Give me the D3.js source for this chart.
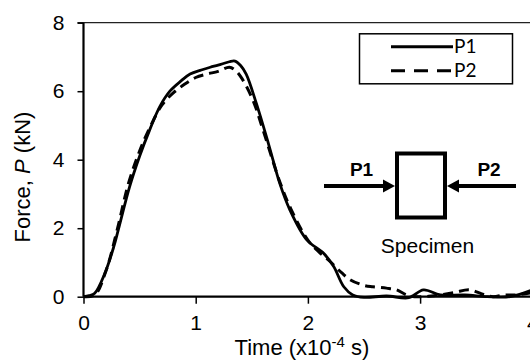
<!DOCTYPE html>
<html>
<head>
<meta charset="utf-8">
<script src="https://cdn.jsdelivr.net/npm/d3@7"></script>
<style>
  body { margin: 0; background: #fff; }
  text { font-family: "Liberation Sans", Arial, sans-serif; }
</style>
</head>
<body>
<div id="chart"></div>
<script>
// time in x10^-4 s, force in kN
var timeP1  = [0, 0.05, 0.1, 0.19, 0.27, 0.31, 0.41, 0.5, 0.59, 0.68, 0.77, 0.87, 0.95, 1.05, 1.13, 1.2, 1.3, 1.35, 1.4, 1.45, 1.54, 1.65, 1.75, 1.84, 1.99, 2.14, 2.23, 2.32, 2.4, 2.5, 2.7, 2.9, 3.03, 3.18, 3.4, 3.6, 3.8, 4.0];
var forceP1 = [0, 0.03, 0.1, 0.68, 1.46, 1.95, 3.2, 4.1, 4.87, 5.55, 6.0, 6.3, 6.5, 6.62, 6.7, 6.76, 6.86, 6.88, 6.75, 6.5, 5.65, 4.45, 3.3, 2.53, 1.66, 1.27, 0.88, 0.29, 0.05, -0.02, 0.02, -0.03, 0.2, 0.05, 0.05, 0.0, 0.0, 0.2];

var timeP2  = [0, 0.1, 0.2, 0.3, 0.4, 0.5, 0.6, 0.7, 0.8, 0.9, 1.0, 1.1, 1.2, 1.3, 1.35, 1.41, 1.51, 1.6, 1.75, 1.85, 2.0, 2.1, 2.2, 2.3, 2.38, 2.5, 2.58, 2.7, 2.79, 2.88, 2.95, 3.1, 3.3, 3.44, 3.55, 3.65, 3.75, 3.85, 4.0];
var forceP2 = [0, 0.05, 0.75, 1.95, 3.3, 4.25, 5.0, 5.6, 5.95, 6.2, 6.4, 6.5, 6.58, 6.7, 6.62, 6.38, 5.74, 4.87, 3.35, 2.55, 1.65, 1.3, 1.02, 0.7, 0.49, 0.33, 0.29, 0.25, 0.2, 0.05, 0.0, 0.02, 0.12, 0.2, 0.08, 0.0, 0.05, 0.05, 0.12];

var xTicks = [0, 1, 2, 3, 4];
var yTicks = [0, 2, 4, 6, 8];
var seriesNames = ["P1", "P2"];

function init(){
	var width = 530, height = 363;
	var margin = {left: 83.5, top: 22.7};
	var plotW = 448.8, plotH = 274;

	var svg = d3.select("#chart").append("svg")
				.attr("width", width)
				.attr("height", height);

	var x = d3.scaleLinear().domain([0, 4]).range([margin.left, margin.left + plotW]);
	var y = d3.scaleLinear().domain([0, 8]).range([margin.top + plotH, margin.top]);

	//frame top / right
	svg.append("line")
		.attr("x1", x(0) - 6).attr("x2", x(4))
		.attr("y1", y(8)).attr("y2", y(8))
		.attr("stroke", "#222").attr("stroke-width", 1.3);
	svg.append("line")
		.attr("x1", x(4)).attr("x2", x(4))
		.attr("y1", y(8)).attr("y2", y(0))
		.attr("stroke", "#222").attr("stroke-width", 1.3);

	//axes
	var yAxis = d3.axisLeft(y).tickValues(yTicks).tickFormat(d3.format("d")).tickSize(6).tickPadding(13);
	var xAxis = d3.axisBottom(x).tickValues(xTicks).tickFormat(d3.format("d")).tickSize(7).tickPadding(11);

	var gy = svg.append("g").attr("transform", "translate(" + x(0) + ",0)").call(yAxis);
	var gx = svg.append("g").attr("transform", "translate(0," + y(0) + ")").call(xAxis);
	[gx, gy].forEach(function(g){
		g.select(".domain").attr("stroke", "#000").attr("stroke-width", 2.2);
		g.selectAll(".tick line").attr("stroke", "#000").attr("stroke-width", 1.5);
		g.selectAll(".tick text").attr("fill", "#000")
			.style("font-size", "21px")
			.style("font-family", "'Liberation Sans', Arial, sans-serif");
	});
	gy.select(".domain").attr("d", "M0," + y(0) + "V" + y(8));
	gx.select(".domain").attr("d", "M" + x(0) + ",0H" + x(4));

	//axis titles
	var yt = svg.append("text")
		.attr("transform", "translate(30,177) rotate(-90)")
		.attr("text-anchor", "middle")
		.style("font-size", "22px")
		.attr("fill", "#000");
	yt.append("tspan").text("Force, ");
	yt.append("tspan").style("font-style", "italic").text("P");
	yt.append("tspan").text(" (kN)");

	var xt = svg.append("text")
		.attr("x", 302).attr("y", 355)
		.attr("text-anchor", "middle")
		.style("font-size", "22px")
		.attr("fill", "#000");
	xt.append("tspan").text("Time (x10");
	xt.append("tspan").attr("dy", -8).style("font-size", "15px").text("-4");
	xt.append("tspan").attr("dy", 8).text(" s)");

	//curves
	var line = d3.line()
		.x(function(d){ return x(d[0]); })
		.y(function(d){ return y(d[1]); })
		.curve(d3.curveCatmullRom.alpha(0.5));

	var p1 = timeP1.map(function(t, i){ return [t, forceP1[i]]; });
	var p2 = timeP2.map(function(t, i){ return [t, forceP2[i]]; });

	svg.append("path").datum(p2)
		.attr("d", line)
		.attr("fill", "none")
		.attr("stroke", "#000")
		.attr("stroke-width", 3)
		.attr("stroke-dasharray", "10,6");

	svg.append("path").datum(p1)
		.attr("d", line)
		.attr("fill", "none")
		.attr("stroke", "#000")
		.attr("stroke-width", 2.8);

	//legend
	var legend = svg.append("g");
	legend.append("rect")
		.attr("x", 359.5).attr("y", 33.8)
		.attr("width", 153).attr("height", 50)
		.attr("fill", "#fff")
		.attr("stroke", "#000")
		.attr("stroke-width", 1.5);
	var legendItems = legend.selectAll("g.item").data(seriesNames).enter()
		.append("g").attr("class", "item");
	legendItems.append("line")
		.attr("x1", 391).attr("x2", 453)
		.attr("y1", function(d, i){ return 46.7 + i * 24; })
		.attr("y2", function(d, i){ return 46.7 + i * 24; })
		.attr("stroke", "#000")
		.attr("stroke-width", 3)
		.attr("stroke-dasharray", function(d, i){ return i ? "14,9" : null; });
	legendItems.append("text")
		.attr("x", 454)
		.attr("y", function(d, i){ return 46.7 + i * 24 + 6.5; })
		.style("font-family", "Lato, 'Open Sans', sans-serif")
		.style("font-size", "19px")
		.attr("fill", "#000")
		.text(function(d){ return d; });

	//specimen diagram
	var diag = svg.append("g");
	diag.append("rect")
		.attr("x", 397).attr("y", 153.5)
		.attr("width", 48).attr("height", 64)
		.attr("fill", "#fff")
		.attr("stroke", "#000")
		.attr("stroke-width", 4);
	diag.append("line")
		.attr("x1", 324).attr("x2", 386).attr("y1", 186).attr("y2", 186)
		.attr("stroke", "#000").attr("stroke-width", 4);
	diag.append("path")
		.attr("d", "M395,186 L383,179.5 L383,192.5 Z")
		.attr("fill", "#000");
	diag.append("line")
		.attr("x1", 456).attr("x2", 516).attr("y1", 186).attr("y2", 186)
		.attr("stroke", "#000").attr("stroke-width", 4);
	diag.append("path")
		.attr("d", "M447,186 L459,179.5 L459,192.5 Z")
		.attr("fill", "#000");
	diag.append("text")
		.attr("x", 361.5).attr("y", 176)
		.attr("text-anchor", "middle")
		.style("font-size", "19px").style("font-weight", "bold")
		.text("P1");
	diag.append("text")
		.attr("x", 489).attr("y", 176)
		.attr("text-anchor", "middle")
		.style("font-size", "19px").style("font-weight", "bold")
		.text("P2");
	diag.append("text")
		.attr("x", 427.5).attr("y", 253)
		.attr("text-anchor", "middle")
		.style("font-size", "21px")
		.text("Specimen");
}

window.onload = init;
</script>
</body>
</html>
